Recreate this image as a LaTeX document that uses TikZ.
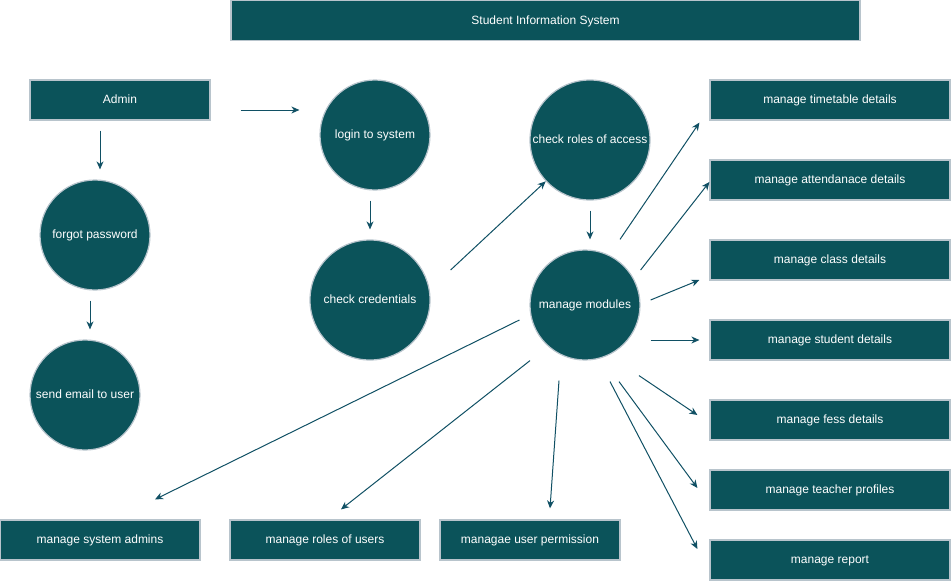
\documentclass[tikz,border=0pt]{standalone}
\usepackage{fontspec}
\setmainfont{Liberation Sans}
\usetikzlibrary{arrows.meta}
\definecolor{sisfill}{HTML}{0B535A}
\definecolor{sisedge}{HTML}{B8C4CC}
\definecolor{sisarrow}{HTML}{105064}

\begin{document}
\begin{tikzpicture}[x=1pt, y=-1pt,
    every node/.style={font=\fontsize{12}{14}\selectfont, text=white,
        text height=9pt, text depth=2pt},
    box/.style={draw=sisedge, line width=1.2pt, fill=sisfill, inner sep=0pt,
        minimum height=40pt, minimum width=#1},
    box/.default=180pt,
    proc/.style={circle, draw=sisedge, line width=1.2pt, fill=sisfill,
        inner sep=0pt, minimum size=#1},
    proc/.default=110pt,
    arr/.style={draw=sisarrow, line width=1pt,
        -{Stealth[length=8pt, width=7pt, inset=2.5pt]}}]
\useasboundingbox (0,0) rectangle (951,581);
\node[box=629pt] (title) at (545.5,20.5) {Student Information System};
\node[box] (admin) at (120,100) {Admin};
\node[proc] (login) at (375,135) {login to system};
\node[proc=120pt] (cred) at (370,300) {check credentials};
\node[proc] (forgot) at (95,235) {forgot password};
\node[proc] (email) at (85,395) {send email to user};
\node[proc=120pt] (roles) at (590,140) {check roles of access};
\node[proc] (modules) at (585,305) {manage modules};
\node[box=240pt] (timetable) at (830,100) {manage timetable details};
\node[box=240pt] (attend) at (830,180) {manage attendanace details};
\node[box=240pt] (class) at (830,260) {manage class details};
\node[box=240pt] (student) at (830,340) {manage student details};
\node[box=240pt] (fees) at (830,420) {manage fess details};
\node[box=240pt] (teacher) at (830,490) {manage teacher profiles};
\node[box=240pt] (report) at (830,560) {manage report};
\node[box=200pt] (sysadm) at (100,540) {manage system admins};
\node[box=190pt] (userroles) at (325,540) {manage roles of users};
\node[box] (perm) at (530,540) {managae user permission};

\draw[arr] ([shift={(30,10)}]admin.east) -- ([shift={(-20,-25)}]login.west);
\draw[arr] ([shift={(-20,10)}]admin.south) -- ([shift={(5,-10)}]forgot.north);
\draw[arr] ([shift={(-5,10)}]forgot.south) -- ([shift={(5,-10)}]email.north);
\draw[arr] ([shift={(-5,10)}]login.south) -- ([shift={(0,-10)}]cred.north);
\draw[arr] ([shift={(20,-30)}]cred.east) -- (roles.223);
\draw[arr] ([shift={(0,10)}]roles.south) -- ([shift={(5,-10)}]modules.north);
\draw[arr] ([shift={(35,-10)}]modules.north) -- ([shift={(-10,2)}]timetable.south west);
\draw[arr] ([shift={(0,-35)}]modules.east) -- ([shift={(0,2)}]attend.west);
\draw[arr] ([shift={(10,-5)}]modules.east) -- ([shift={(-10,20)}]class.west);
\draw[arr] ([shift={(10,35)}]modules.east) -- ([shift={(-10,0)}]student.west);
\draw[arr] ([shift={(54,15)}]modules.south) -- ([shift={(-12,-5)}]fees.west);
\draw[arr] ([shift={(34,21)}]modules.south) -- ([shift={(-12,-2)}]teacher.west);
\draw[arr] ([shift={(25,21)}]modules.south) -- ([shift={(-12,-11)}]report.west);
\draw[arr] ([shift={(-26,20)}]modules.south) -- ([shift={(20,-11)}]perm.north);
\draw[arr] ([shift={(-55,0)}]modules.south) -- ([shift={(16,-10)}]userroles.north);
\draw[arr] ([shift={(-10,15)}]modules.west) -- ([shift={(55,-20)}]sysadm.north);
\end{tikzpicture}
\end{document}
